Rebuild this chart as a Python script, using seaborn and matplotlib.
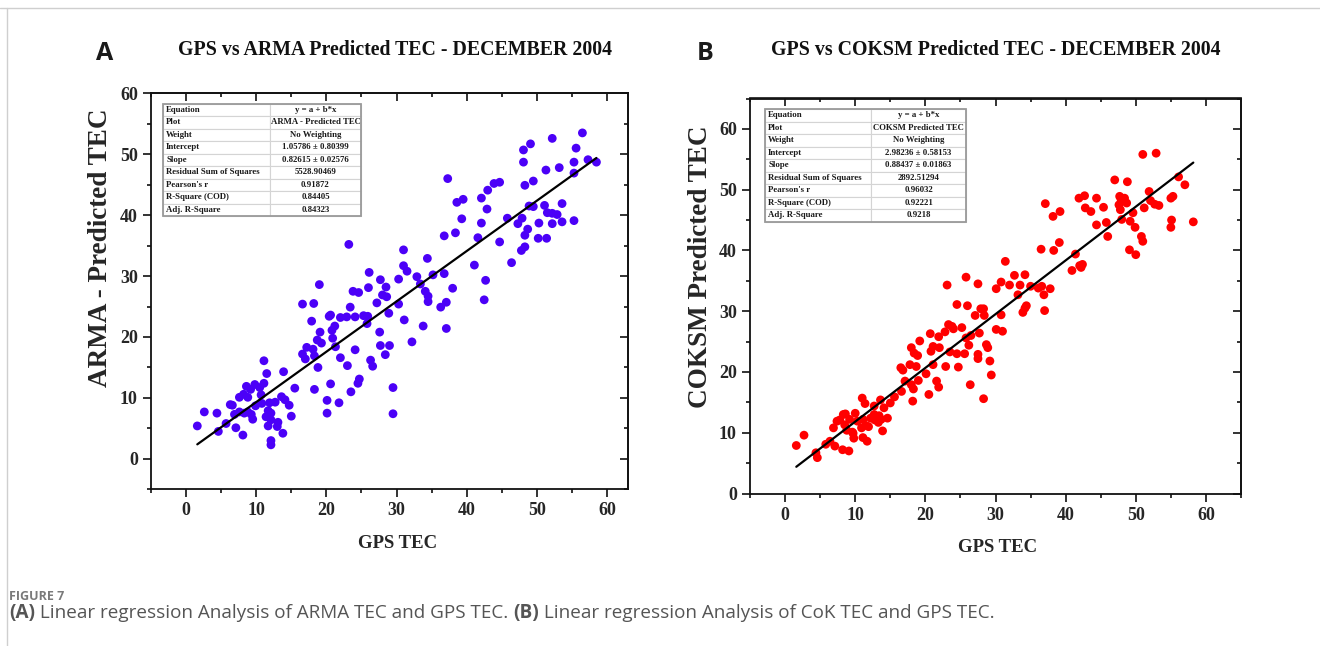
import numpy as np
import pandas as pd
import matplotlib
matplotlib.use("Agg")
import matplotlib.pyplot as plt
import seaborn as sns
from matplotlib.lines import Line2D
from matplotlib.patches import Rectangle
from matplotlib.ticker import MultipleLocator

# ---------------- data ----------------
arma_gps = [56.5, 52.2, 49.1, 48.1, 55.6, 48.1, 55.3, 57.3, 58.5, 51.3, 53.2, 55.3, 48.3, 49.5,
            48.9, 49.5, 51.1, 53.6, 51.5, 52.2, 52.9, 50.3, 52.2, 53.6, 55.3, 47.9, 47.3, 45.8,
            48.7, 48.3, 50.2, 51.4, 48.3, 47.8, 46.4, 44.7, 37.3, 38.6, 39.5, 43.0, 43.9, 44.7,
            42.1, 42.9, 39.3, 42.1, 36.8, 38.4, 41.6, 41.1, 42.7, 42.5, 36.8, 38.0, 35.2, 37.1,
            36.3, 37.1, 34.4, 31.0, 31.0, 31.5, 32.9, 33.4, 34.1, 34.5, 34.5, 30.3, 30.3, 31.1,
            33.8, 32.2, 23.2, 26.1, 27.7, 28.5, 26.0, 23.8, 24.6, 28.0, 28.6, 27.2, 23.4, 28.9,
            19.0, 16.6, 18.2, 17.9, 20.4, 20.6, 22.0, 22.9, 24.1, 25.3, 25.9, 25.8, 19.1, 20.8,
            21.2, 20.9, 27.6, 18.7, 19.3, 21.3, 17.2, 18.1, 16.6, 17.0, 18.3, 24.1, 27.7, 29.0,
            28.4, 22.0, 26.3, 26.6, 23.0, 18.8, 24.7, 24.5, 20.6, 18.3, 23.5, 20.1, 21.8, 20.1,
            29.5, 29.5,
            1.6, 2.6, 4.4, 4.6, 5.7, 7.1, 8.1, 6.3, 6.6, 6.9, 7.6, 8.3, 8.8, 9.3, 9.5, 7.6, 8.6,
            8.2, 9.2, 9.8, 10.5, 11.1, 8.8, 9.9, 10.7, 11.1, 11.5, 10.8, 11.9, 12.7, 13.6, 14.1,
            14.7, 11.7, 12.1, 11.4, 12.1, 11.7, 13.1, 13.0, 13.8, 15.0, 12.1, 12.1, 13.9, 15.5]
arma_pred = [53.5, 52.6, 51.7, 50.7, 51.0, 48.7, 48.7, 49.1, 48.7, 47.4, 47.8, 46.9, 44.9, 45.6,
             41.5, 41.4, 41.6, 41.9, 40.4, 40.3, 40.1, 38.7, 38.6, 38.9, 39.1, 39.5, 38.6, 39.5,
             37.7, 36.7, 36.2, 36.2, 34.8, 34.2, 32.2, 35.6, 46.0, 42.1, 42.6, 44.1, 45.2, 45.4,
             42.8, 41.0, 39.4, 38.7, 36.6, 37.1, 36.3, 31.8, 29.3, 26.1, 30.4, 28.0, 30.2, 25.7,
             24.9, 21.4, 32.9, 34.3, 31.7, 30.8, 29.9, 28.7, 27.5, 26.7, 25.8, 29.5, 25.4, 22.8,
             21.8, 19.2, 35.2, 30.6, 29.4, 28.2, 28.1, 27.5, 27.3, 26.9, 26.6, 25.6, 24.9, 23.9,
             28.6, 25.4, 25.5, 22.6, 23.4, 23.6, 23.2, 23.3, 23.3, 23.5, 23.4, 22.2, 20.8, 21.1,
             21.8, 19.8, 20.8, 19.5, 19.0, 18.4, 18.3, 18.0, 17.2, 16.4, 16.9, 17.9, 18.6, 18.6,
             17.1, 16.6, 16.2, 15.2, 15.3, 15.0, 13.1, 12.4, 12.3, 11.4, 11.0, 9.6, 9.2, 7.5,
             11.7, 7.4,
             5.4, 7.7, 7.5, 4.5, 5.8, 5.1, 3.9, 8.9, 8.8, 7.3, 7.7, 7.5, 7.7, 7.3, 6.5, 10.1, 11.9,
             10.6, 11.4, 12.2, 11.7, 12.4, 10.1, 8.7, 10.5, 16.1, 14.0, 9.1, 9.2, 9.3, 10.2, 9.7,
             8.8, 7.9, 7.5, 6.9, 6.4, 5.4, 6.0, 5.3, 4.2, 7.0, 3.0, 2.3, 14.3, 11.6]

coksm_gps = [51.0, 52.9, 56.1, 57.0, 47.0, 48.8, 51.9, 52.1, 52.7, 53.3, 51.2, 55.0, 55.3, 47.7,
             47.9, 48.4, 48.7, 47.6, 47.8, 49.6, 48.0, 49.2, 49.9, 55.1, 58.2, 55.0, 50.8, 51.0,
             49.1, 50.0, 41.9, 42.7, 44.4, 42.8, 43.6, 45.4, 44.4, 45.8, 46.0, 37.1, 38.2, 39.2,
             36.5, 38.3, 39.1, 41.4, 40.9, 42.0, 42.4, 42.2,
             31.4, 32.7, 34.2, 25.8, 27.5, 23.1, 30.8, 30.1, 32.0, 33.5, 33.2, 35.0, 36.1, 36.6,
             37.8, 36.9, 34.4, 34.2, 33.9, 37.0, 24.5, 26.0, 27.9, 28.3, 27.1, 28.4, 30.8, 30.1,
             31.0, 23.3, 23.8, 22.8, 24.0, 25.2, 21.9, 20.7, 26.5, 27.7, 25.8, 26.2, 28.7, 28.9,
             23.5, 24.5, 25.6, 21.1, 20.8, 22.0, 21.1, 22.9, 27.5, 27.5, 29.2, 24.7, 29.4, 26.4,
             28.3, 21.6, 21.9,
             1.6, 2.7, 4.4, 4.6, 5.8, 6.4, 7.1, 8.2, 9.1, 6.9, 7.4, 7.8, 8.3, 8.6, 8.5, 8.8, 9.7,
             9.8, 9.6, 9.2, 10.0, 10.3, 10.9, 11.1, 11.5, 11.9, 11.1, 11.7, 11.0, 11.4, 12.2, 12.7,
             13.0, 13.4, 13.7, 12.8, 13.3, 13.9, 14.6, 12.7, 13.6, 14.1, 15.0, 15.6, 16.6, 16.5,
             16.8, 17.1, 18.0, 17.8, 18.7, 18.3, 18.2, 19.0, 20.1, 20.5, 18.0, 18.4, 18.9, 19.2]
coksm_pred = [55.8, 56.0, 52.1, 50.8, 51.6, 51.3, 49.7, 48.2, 47.6, 47.4, 47.0, 48.6, 48.9, 48.9,
              48.4, 48.6, 47.8, 47.5, 46.7, 46.2, 45.1, 44.8, 43.8, 45.0, 44.7, 43.8, 42.3, 41.5,
              40.1, 39.3, 48.6, 49.0, 48.6, 47.0, 46.4, 47.1, 44.2, 44.6, 42.3, 47.7, 45.6, 46.4,
              40.2, 40.0, 41.3, 39.4, 36.7, 37.5, 37.7, 37.2,
              38.2, 35.9, 36.0, 35.6, 34.5, 34.3, 34.8, 33.7, 34.3, 34.3, 32.7, 34.1, 33.8, 34.1,
              33.7, 32.7, 30.9, 30.5, 29.8, 30.1, 31.1, 30.9, 30.4, 30.4, 29.3, 29.3, 29.4, 27.0,
              26.7, 27.8, 27.5, 26.6, 27.1, 27.3, 25.8, 26.3, 26.0, 26.4, 25.6, 24.4, 24.5, 24.0,
              23.3, 23.0, 23.0, 24.2, 23.4, 24.0, 21.2, 20.9, 22.9, 22.2, 21.8, 20.8, 19.5, 17.9,
              15.6, 18.5, 17.5,
              7.9, 9.6, 6.7, 5.9, 8.1, 8.6, 7.8, 7.2, 7.0, 10.8, 11.9, 12.1, 13.0, 13.1, 11.3, 10.4,
              9.9, 9.1, 10.1, 12.2, 13.2, 11.9, 10.8, 12.2, 11.2, 11.0, 9.2, 8.6, 15.7, 14.8, 12.4,
              13.0, 12.7, 12.8, 12.2, 12.1, 11.7, 10.3, 12.4, 14.4, 15.4, 14.1, 14.9, 15.9, 16.8,
              20.7, 20.3, 18.5, 17.9, 21.2, 20.9, 17.2, 15.2, 18.6, 19.7, 16.3, 24.0, 23.1, 22.7,
              25.1]

table_labels = ["Equation", "Plot", "Weight", "Intercept", "Slope",
                "Residual Sum of Squares", "Pearson's r", "R-Square (COD)", "Adj. R-Square"]
arma_table = ["y = a + b*x", "ARMA - Predicted TEC", "No Weighting",
              "1.05786 \u00b1 0.80399", "0.82615 \u00b1 0.02576", "5528.90469",
              "0.91872", "0.84405", "0.84323"]
coksm_table = ["y = a + b*x", "COKSM Predicted TEC", "No Weighting",
               "2.98236 \u00b1 0.58153", "0.88437 \u00b1 0.01863", "2892.51294",
               "0.96032", "0.92221", "0.9218"]
arma_fit = [1.05786, 0.82615]     # intercept, slope
coksm_fit = [2.98236, 0.88437]

titles = ["GPS vs ARMA Predicted TEC - DECEMBER 2004",
          "GPS vs COKSM Predicted TEC - DECEMBER 2004"]
ylabels = ["ARMA - Predicted TEC", "COKSM Predicted TEC"]
xlabel = "GPS TEC"

# ---------------- style ----------------
sns.set_style("ticks")
plt.rcParams["font.family"] = ["Liberation Serif", "DejaVu Serif"]
plt.rcParams["font.weight"] = "bold"

SERIF = "Liberation Serif"

fig = plt.figure(figsize=(13.2, 6.46), dpi=100)
fig.patch.set_facecolor("white")

axA = fig.add_axes([151 / 1320, 1 - 489.3 / 646, 477 / 1320, 396 / 646])
axB = fig.add_axes([750 / 1320, 1 - 493.5 / 646, 491 / 1320, 395 / 646])


def style_axes(ax, xlim, ylim):
    ax.set_xlim(*xlim)
    ax.set_ylim(*ylim)
    ax.xaxis.set_major_locator(MultipleLocator(10))
    ax.xaxis.set_minor_locator(MultipleLocator(5))
    ax.yaxis.set_major_locator(MultipleLocator(10))
    ax.yaxis.set_minor_locator(MultipleLocator(5))
    for s in ax.spines.values():
        s.set_visible(True)
        s.set_linewidth(1.3)
        s.set_color("#111111")
    ax.tick_params(which="both", direction="out", top=False, right=False,
                   color="#111111", width=1.2)
    ax.tick_params(which="major", length=5.5, pad=4, labelsize=13)
    ax.tick_params(which="minor", length=3.2)
    for lab in ax.get_xticklabels() + ax.get_yticklabels():
        lab.set_fontfamily(SERIF)
        lab.set_fontweight("bold")
    # mirrored inward ticks on top / right
    sec_x = ax.secondary_xaxis("top")
    sec_y = ax.secondary_yaxis("right")
    for sec, axis in ((sec_x, sec_x.xaxis), (sec_y, sec_y.yaxis)):
        axis.set_major_locator(MultipleLocator(10))
        axis.set_minor_locator(MultipleLocator(5))
        sec.tick_params(which="both", direction="in", labeltop=False, labelright=False,
                        labelbottom=False, labelleft=False, color="#111111", width=1.2)
        sec.tick_params(which="major", length=5.5)
        sec.tick_params(which="minor", length=3.2)
        for s in sec.spines.values():
            s.set_linewidth(1.3)


def add_table(ax, values, bbox, split):
    rows = [[lab, v] for lab, v in zip(table_labels, values)]
    tb = ax.table(cellText=rows, bbox=bbox, colWidths=[split, 1 - split], zorder=6)
    tb.auto_set_font_size(False)
    for (r, c), cell in tb.get_celld().items():
        cell.set_edgecolor("#d4d4d4")
        cell.set_linewidth(0.8)
        cell.set_facecolor("white")
        t = cell.get_text()
        t.set_fontsize(6.3)
        t.set_fontfamily(SERIF)
        t.set_fontweight("bold")
        t.set_color("#1a1a1a")
        if c == 0:
            cell._loc = "left"
            t.set_ha("left")
            cell.PAD = 0.03
        else:
            cell._loc = "center"
            t.set_ha("center")
    x0, y0, w, h = bbox
    ax.add_patch(Rectangle((x0, y0), w, h, transform=ax.transAxes, fill=False,
                           edgecolor="#9a9a9a", linewidth=1.3, zorder=7, clip_on=False))


def draw_panel(ax, gps, pred, color, fit, tvals, xlim, ylim, ylab, bbox, split, ylabpos,
               xlabx):
    df = pd.DataFrame({"GPS": gps, "Pred": pred})
    sns.scatterplot(data=df, x="GPS", y="Pred", ax=ax, color=color, s=40,
                    edgecolor="none", linewidth=0, zorder=3, legend=False)
    xs = np.array([df["GPS"].min(), df["GPS"].max()])
    ax.plot(xs, fit[0] + fit[1] * xs, color="black", lw=1.6, zorder=4)
    style_axes(ax, xlim, ylim)
    ax.set_xlabel(xlabel, fontsize=13.5, fontweight="bold", fontfamily=SERIF)
    ax.xaxis.set_label_coords(xlabx, -0.115)
    ax.set_ylabel(ylab, fontsize=19.5, fontweight="bold", fontfamily=SERIF)
    ax.yaxis.set_label_coords(*ylabpos)
    add_table(ax, tvals, bbox, split)


draw_panel(axA, arma_gps, arma_pred, "#4B00F7", arma_fit, arma_table,
           (-5, 63), (-5, 60), ylabels[0], [0.0252, 0.690, 0.415, 0.284], 0.54,
           (-0.080, 0.61), 0.516)
draw_panel(axB, coksm_gps, coksm_pred, "#FF0000", coksm_fit, coksm_table,
           (-5, 65), (0, 65), ylabels[1], [0.0305, 0.688, 0.409, 0.285], 0.53,
           (-0.075, 0.575), 0.504)

# titles and panel letters
fig.text(395 / 1320, 1 - 50 / 646, titles[0], ha="center", va="center",
         fontsize=14.3, fontweight="bold", fontfamily=SERIF, color="#111111")
fig.text(996 / 1320, 1 - 50 / 646, titles[1], ha="center", va="center",
         fontsize=14.3, fontweight="bold", fontfamily=SERIF, color="#111111")
fig.text(105 / 1320, 1 - 53 / 646, "A", ha="center", va="center", fontsize=18,
         fontweight="bold", fontfamily="Open Sans", color="#1a1a1a")
fig.text(705 / 1320, 1 - 53 / 646, "B", ha="center", va="center", fontsize=18,
         fontweight="bold", fontfamily="Open Sans", color="#1a1a1a")

# caption
fig.text(9 / 1320, 1 - 596 / 646, "FIGURE 7", ha="left", va="center", fontsize=9,
         fontfamily="Open Sans", color="#7a7a7a")
segments = [("(A)", "bold"), (" Linear regression Analysis of ARMA TEC and GPS TEC. ", "normal"),
            ("(B)", "bold"), (" Linear regression Analysis of CoK TEC and GPS TEC.", "normal")]
renderer = fig.canvas.get_renderer()
xpos = 9
for txt, wt in segments:
    t = fig.text(xpos / 1320, 1 - 613 / 646, txt, ha="left", va="center", fontsize=13.6,
                 fontweight=wt, fontfamily="Open Sans", color="#555555")
    bb = t.get_window_extent(renderer=renderer)
    xpos += bb.width

# page frame lines
fig.add_artist(Line2D([0, 1], [1 - 8 / 646, 1 - 8 / 646], transform=fig.transFigure,
                      color="#cfcfcf", lw=1))
fig.add_artist(Line2D([7 / 1320, 7 / 1320], [0, 1 - 8 / 646], transform=fig.transFigure,
                      color="#cfcfcf", lw=1))

fig.savefig("out.png", dpi=100, facecolor="white")
